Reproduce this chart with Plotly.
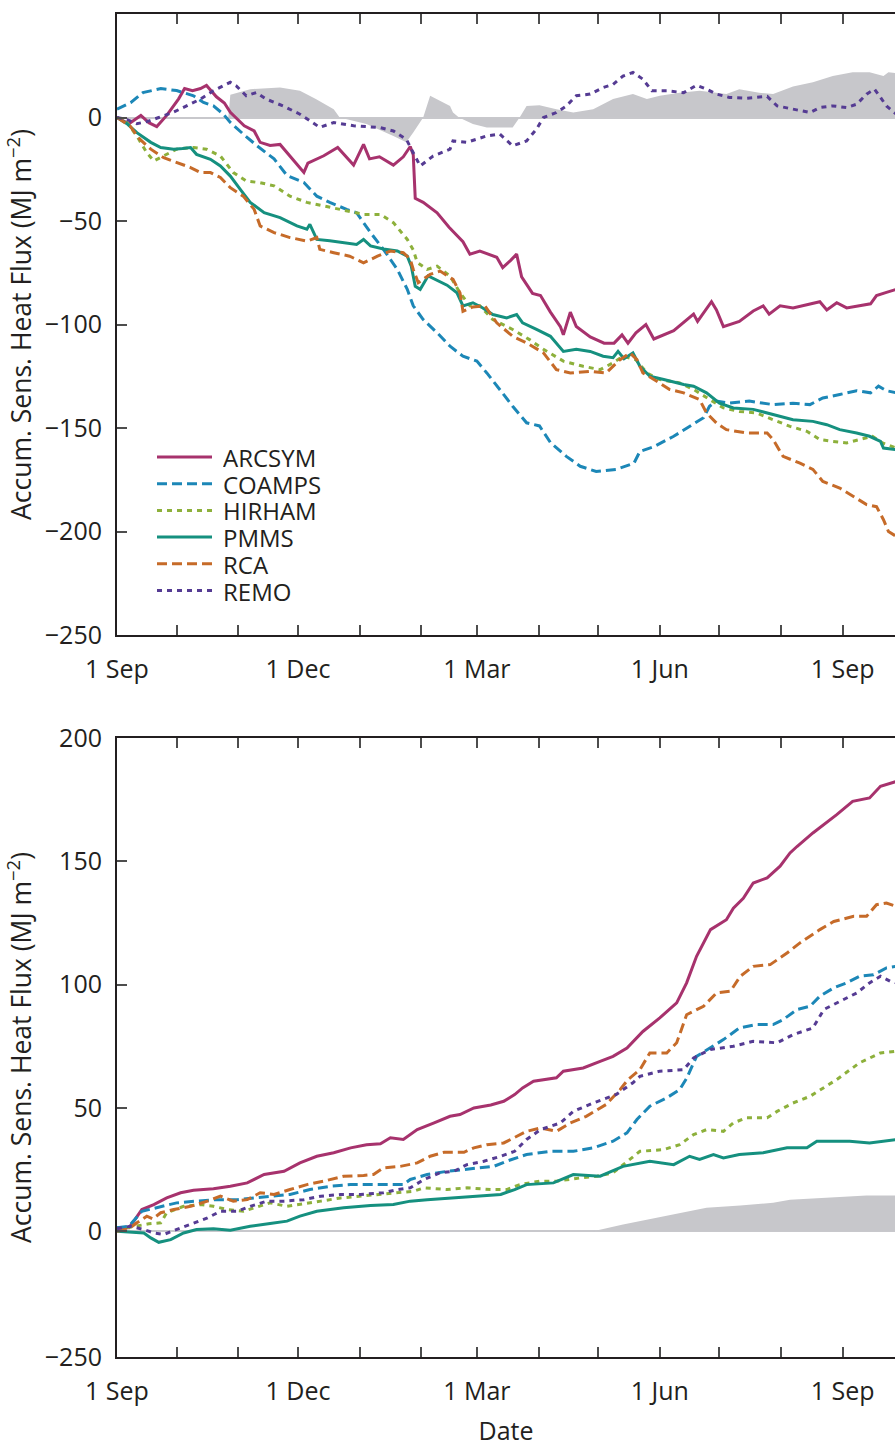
import pandas as pd
import plotly.graph_objects as go

# ---------------- data (day offset from 1 Sep 1997, accumulated flux MJ m-2) -------------
START = pd.Timestamp("1997-09-01")
END_DAY = 391.3

MODELS = ["ARCSYM", "COAMPS", "HIRHAM", "PMMS", "RCA", "REMO"]
COLORS = ["#A7326D", "#1C87B7", "#8DB03B", "#15907F", "#C66B29", "#553B93"]
DASHES = ["solid", "10px,5px", "5px,5px", "solid", "10px,5px", "5px,5px"]
SHADE_COLOR = "#C7C7CB"

QUARTER_DATES = ["1997-09-01", "1997-12-01", "1998-03-01", "1998-06-01", "1998-09-01"]
QUARTER_LABELS = ["1 Sep", "1 Dec", "1 Mar", "1 Jun", "1 Sep"]
MONTH_DATES = ["1997-10-01", "1997-11-01", "1998-01-01", "1998-02-01", "1998-04-01",
               "1998-05-01", "1998-07-01", "1998-08-01"]

TOP_TICKS = [-250, -200, -150, -100, -50, 0, 50]
BOT_TICKS = [-51, 0, 50, 100, 150, 200]
BOT_TICK_LABELS = ["\u2212250", "0", "50", "100", "150", "200"]

# ---- top panel (sensible heat flux) ----
ARCSYM_TOP = [(0, 0), (6, -3), (12, 1), (16, -2.5), (20, -4.4), (25, 1), (31, 9), (34, 14), (38, 13),
              (42, 14), (45, 15.5), (48, 12), (50, 10), (54, 7), (57, 2.5), (64, -4), (69, -6.5), (72, -12),
              (77, -13.5), (82, -13), (87, -18.5), (94, -26.5), (96, -22), (104, -18.5), (111, -14.5),
              (116, -20), (119, -23), (124, -13), (127, -20), (132, -19), (139, -23), (144, -19),
              (147.5, -14), (149, -18), (150, -39), (154, -41), (161, -46), (167, -53), (174, -60),
              (177.5, -66), (182.5, -64.5), (191, -67.5), (194, -72.5), (198, -69), (201, -66),
              (203.5, -77), (209, -85), (213, -86), (218, -94), (223, -101), (224.5, -105), (228, -94),
              (231, -101), (238, -106), (245, -109), (250, -109), (254, -105), (257, -109), (261, -104),
              (266, -100), (270, -107), (280, -103), (285, -99), (290, -95), (292, -98.5), (299, -89),
              (301.5, -93), (305, -101), (313, -98.5), (320, -93.5), (325, -91), (328, -95), (333.5, -91),
              (340, -92), (353.5, -89), (357, -93), (362, -89.5), (367, -92), (379, -90), (382, -86),
              (387, -84.5), (392, -83)]
COAMPS_TOP = [(0, 4), (7, 7.3), (13, 12), (22, 14), (30, 13), (38.5, 10.5), (43.5, 7.3), (48.5, 5.6),
              (53.5, 1.6), (57, -2.4), (63.5, -8), (70.5, -13.7), (79, -20), (85.5, -28), (94, -31.4),
              (100.5, -38), (107, -41), (115.5, -44.4), (120.5, -46), (127.5, -55.6), (134, -63.7),
              (141, -73.4), (146, -83), (149, -91), (154, -97.6), (161, -104), (167.5, -110.5),
              (174, -115.3), (181, -117.7), (186, -123.4), (192.5, -131.4), (199, -139.5), (206, -147.5),
              (212.5, -149), (218, -157), (226, -163.7), (233, -168.5), (241, -171), (251, -170),
              (260, -167), (263, -161.3), (270, -159), (280, -154), (288, -149), (295, -145),
              (298, -139.5), (301.5, -137), (308, -138), (318, -137), (330, -138.7), (340, -138),
              (348.5, -138.7), (355, -135.5), (363.5, -133.8), (372, -132), (379, -133), (383, -129.8),
              (387, -132), (392, -133)]
HIRHAM_TOP = [(0, 0), (5, -2.4), (10, -9), (15, -17), (18.5, -21), (23.5, -18.6), (30, -15.3),
              (38.5, -14.5), (45, -15.3), (52, -18.6), (58.5, -26.6), (65, -30.7), (72, -31.5), (79, -33),
              (87, -38), (95.5, -41), (104, -42.8), (114, -45), (124, -46.8), (132.5, -46.8), (139, -50.8),
              (146, -58.9), (149, -64), (151, -70), (156, -73.4), (161, -71.8), (167.5, -76.6),
              (172.5, -84.7), (177.5, -91), (182.5, -91), (189, -97.6), (199, -102.4), (207.5, -107.3),
              (214.5, -112), (224.5, -117.7), (234.5, -120.2), (243, -121.8), (249.5, -118.5),
              (254.5, -115.3), (261, -117), (266.5, -123.4), (273, -126.6), (283, -128.2), (290, -131.4),
              (298, -136.3), (305, -140.3), (313, -142), (321.5, -142.7), (330, -146), (338.5, -149.2),
              (347, -151.6), (353.5, -155.6), (360, -156.5), (367, -157.2), (373.5, -155.6), (380, -154),
              (385, -157.2), (392, -159.7)]
PMMS_TOP = [(0, 0), (5, -3), (10, -7.3), (17, -12), (22, -14.5), (28.5, -15.3), (33, -15), (37, -14.5),
            (40, -17.8), (47, -20.2), (52, -23.4), (57, -28.3), (62, -34.7), (67, -41), (74, -46),
            (82, -48.4), (90.5, -52.4), (95.5, -54), (97, -51.6), (100.5, -58.9), (107, -59.5),
            (114, -60.5), (120.5, -61.3), (124, -58.9), (127.5, -62), (134, -63.5), (141, -64.5),
            (146, -67), (148, -71.8), (150, -81.5), (152.5, -83), (156.5, -76.5), (161, -78.5), (166, -81),
            (171, -84.7), (174, -91), (179, -89.5), (184, -92), (189, -95.2), (196, -96.8), (201, -95.2),
            (204, -99.2), (211, -102.4), (218, -105.7), (224.5, -113), (231, -112), (238, -113),
            (244.5, -115.3), (249.5, -116), (252, -113), (255, -116.5), (259.5, -113.7), (263, -120.2),
            (268, -125), (275, -126.6), (285, -129), (290, -129.8), (296.5, -133), (303, -138),
            (310, -140.3), (320, -141), (330, -143.5), (340, -146), (350, -146.8), (357, -148.4),
            (363.5, -150.8), (372, -152.4), (378.5, -154), (384, -156.5), (385.5, -159.7), (392, -160.5)]
RCA_TOP = [(0, 0), (6.5, -4), (11.5, -10.5), (17, -15.3), (23.5, -19.4), (30, -21.8), (37, -24.2),
           (42, -26.6), (47, -26.6), (52, -29), (57, -33.9), (63.5, -38), (69, -44.4), (72, -52.4),
           (79, -55.6), (87, -58), (95.5, -59.7), (100.5, -58), (102, -63.7), (109, -65.3), (117, -67),
           (124, -70.2), (131, -67), (137.5, -64.5), (144, -65.3), (147.5, -68.5), (149, -73.4),
           (151.5, -79.8), (157.5, -75.8), (162.5, -74.2), (169, -78.2), (172.5, -84.7), (174, -93.6),
           (179, -91.5), (185, -91), (191, -99.2), (199, -105.7), (206, -108.9), (214.5, -113.7),
           (221, -121.8), (228, -123.4), (238, -122.6), (246, -123.4), (253, -117), (258, -113.7),
           (261.5, -117), (264.5, -123.4), (271.5, -127.4), (278, -131.4), (285, -133), (291.5, -135.5),
           (293, -136.3), (296.5, -142.7), (301.5, -147.6), (306.5, -150.8), (316.5, -152.4),
           (327, -152.4), (330, -155.6), (335, -163.7), (343.5, -167), (350, -170), (355, -175.8),
           (363.5, -179), (370, -183), (377, -187), (382, -188), (385.5, -194.3), (388, -200),
           (392, -202.4)]
REMO_TOP = [(0, 0), (5, -1), (10, -3), (15, -2), (21, 0), (28, 2.4), (35, 5.6), (42, 8.9), (48.5, 12.9),
            (57, 17), (60, 15.3), (65, 10.5), (70, 12), (75, 8.9), (83.5, 5.6), (92, 1.6), (102, -4.8),
            (109, -2.4), (119, -4), (132, -4.8), (139, -6.5), (145.5, -10.5), (149, -17), (152.5, -23.4),
            (159, -18.6), (167.5, -15.3), (169, -11.3), (176, -12), (186, -8.9), (192.5, -8),
            (199, -13.7), (206, -11.3), (211, -5.6), (214.5, 0), (221, 2.4), (226, 5.6), (231, 10.5),
            (238, 11.3), (244.5, 14.5), (249.5, 16), (254.5, 20), (259.5, 21.8), (264.5, 18.5),
            (269, 12.9), (276.5, 12.9), (285, 12), (291.5, 15.6), (296.5, 13.7), (301.5, 11.3),
            (308, 9.7), (316.5, 9.3), (327, 10.2), (332, 5.6), (343.5, 3.2), (348.5, 2.4), (353.5, 4.8),
            (360, 5.6), (367, 4.8), (372, 6.4), (377, 11.3), (381, 13.7), (384, 9.7), (387, 5.6),
            (392, 1.6)]
SHADE_TOP = [(0, 0), (56, 0), (57, 11), (67, 13.7), (82, 14.5), (92, 12.9), (100, 8.9), (109, 4), (112, 0),
             (125.5, -3.2), (139, -8.9), (145.5, -12), (149, -7.3), (154, 0), (157.5, 10.5), (161, 8.9),
             (167.5, 5.6), (169, 2.4), (172, 0), (179, -3.2), (186, -4.8), (199, -4.8), (202.5, 0),
             (206, 5.6), (212.5, 5.9), (221, 4), (229.5, 2.4), (239.5, 4), (249.5, 8.9), (259.5, 11.3),
             (266.5, 8.9), (273, 10.5), (283, 12), (293, 12.9), (306.5, 11.3), (313, 13.7), (323, 12),
             (330, 11.3), (340, 15), (350, 17), (360, 20), (370, 21.8), (378.5, 21.8), (385.5, 20),
             (388, 21.8), (392, 21.4)]

# ---- bottom panel ----
ARCSYM_BOT = [(0, 1.4), (6, 1.4), (9, 4.7), (12.5, 8.8), (18.5, 10.8), (25, 13.5), (32, 15.6),
              (38.5, 16.6), (48.5, 17.2), (57, 18.2), (65.5, 19.6), (74, 23), (84, 24.3), (92, 27.7),
              (100.5, 30.4), (109, 31.8), (117.5, 33.8), (125.5, 35.1), (132.5, 35.5), (137.5, 37.9),
              (144, 37.2), (151, 41.2), (159.5, 43.9), (167.5, 46.6), (172.5, 47.3), (179.5, 50),
              (188, 51.2), (194.5, 52.7), (200, 55.4), (204, 58.1), (209.5, 60.8), (221, 62.2),
              (224.5, 64.9), (234.5, 66.2), (243, 68.9), (249.5, 70.9), (256.5, 74.3), (264.5, 81),
              (273, 86.5), (281.5, 92.6), (286.5, 100.7), (291.5, 111.5), (298.5, 122.3), (306.5, 126.3),
              (310, 131), (315, 135), (320, 141.2), (327, 143.3), (333.5, 148), (338.5, 153.4), (342, 156),
              (350, 161.5), (362, 168.9), (370, 174.3), (378.5, 175.7), (384, 180.4), (392, 182.4)]
COAMPS_BOT = [(0, 1.4), (6, 2), (12.5, 8.1), (20, 9.5), (30, 11.5), (40, 12.2), (50, 12.8), (60.5, 12.8),
              (70.5, 13.5), (79, 14.2), (87, 14.9), (97, 16.9), (107, 18.2), (117.5, 18.9), (127.5, 18.9),
              (137.5, 18.9), (144, 18.9), (147.5, 21), (156, 23), (166, 24.3), (174.5, 25), (182.5, 25.7),
              (189.5, 26.3), (196, 28.4), (206, 31.1), (218, 32.4), (229.5, 32.4), (239.5, 33.8),
              (249.5, 36.5), (256.5, 39.9), (261.5, 45.3), (268, 50.7), (276.5, 54.1), (283, 57.4),
              (286.5, 62), (291.5, 70.9), (298.5, 74.3), (305, 77.7), (313, 82.4), (321.5, 83.8),
              (330, 83.8), (335, 85.8), (342, 89.9), (348.5, 91.2), (353.5, 95.3), (360.5, 98.7),
              (367, 100.7), (373.5, 103.4), (380.5, 104), (387, 106.8), (392, 107.4)]
HIRHAM_BOT = [(0, 0.7), (10, 2), (16, 3), (22, 3.4), (25, 7.5), (33.5, 10.1), (42, 10.8), (48.5, 10.1),
              (55.5, 8.8), (63.5, 8.1), (72, 10.1), (77, 11.5), (85.5, 10.1), (92, 10.8), (102.5, 12.2),
              (112.5, 13.5), (122.5, 14.2), (134, 14.9), (142.5, 15.6), (149, 16.2), (154.5, 17.6),
              (166, 16.9), (176, 17.6), (188, 16.9), (196, 16.9), (202.5, 18.9), (212.5, 20.3),
              (221, 20.3), (233, 21.6), (241.5, 22.3), (249.5, 23.7), (256.5, 28.4), (263, 32.4),
              (275, 33.1), (283, 35.1), (290, 39.2), (296.5, 41.2), (305, 40.5), (310, 43.9), (316.5, 46),
              (327, 46), (332, 48.6), (340, 52), (348.5, 54.7), (357, 58.8), (362, 61.5), (373.5, 68.3),
              (384, 72.3), (392, 73)]
PMMS_BOT = [(0, 0), (13.5, -0.7), (17, -2.7), (21, -4.5), (27, -3.4), (33.5, -0.7), (40, 0.7), (48.5, 1),
            (57, 0.4), (67, 2), (77, 3.1), (85.5, 4.1), (92, 6.1), (100.5, 8.1), (114, 9.5), (127.5, 10.4),
            (139, 10.8), (147.5, 12.2), (156, 12.8), (167.5, 13.5), (181, 14.2), (193, 14.9), (200, 16.9),
            (206, 18.9), (219.5, 19.6), (229.5, 23), (243, 22.3), (254.5, 26.3), (268, 28.4), (280, 27),
            (288, 30.4), (293, 29.1), (300, 31.1), (305, 29.7), (313, 31.1), (325, 31.8), (337, 33.8),
            (347, 33.8), (352, 36.5), (368.5, 36.5), (378.5, 35.8), (392, 37.2)]
RCA_BOT = [(0, 0), (6, 1), (10, 3.4), (15, 6.1), (18, 5), (22, 7.5), (28.5, 8.8), (37, 10.1), (45.5, 12.2),
           (52, 14.2), (58.5, 12.2), (65.5, 12.8), (72, 15.6), (79, 14.9), (87, 16.9), (95.5, 18.9),
           (104, 20.3), (114, 22.3), (124, 22.6), (129, 23), (134, 25.7), (142.5, 26.3), (151, 27.7),
           (157.5, 30.4), (164.5, 32), (174.5, 32), (179.5, 33.8), (186, 35.1), (194.5, 35.8), (200, 37.9),
           (206, 40.5), (213, 41.9), (221, 40.5), (228, 43.9), (236, 46.6), (246, 51.4), (253, 57.4),
           (257, 61.5), (263, 65.5), (268, 72.3), (276.5, 72.3), (281.5, 76.4), (286.5, 87.8), (295, 91.2),
           (301.5, 96.6), (308.5, 97.3), (313.5, 103.4), (320, 107.4), (328.5, 108.1), (337, 112.8),
           (343.5, 116.9), (353.5, 122.3), (360.5, 125.6), (370.5, 127.7), (377, 127.7), (382, 132.4),
           (387, 133.1), (392, 131.7)]
REMO_BOT = [(0, 1), (6.5, 2), (13.5, 0.7), (18.5, -0.7), (23.5, -1.3), (30, 0.7), (37, 2.7), (45.5, 5.4),
            (52, 8.1), (60.5, 8.1), (67, 10.1), (75.5, 12.2), (84, 12.2), (94, 12.8), (102.5, 14.2),
            (112.5, 14.9), (122.5, 14.9), (134, 15.6), (141, 16.9), (147.5, 17.6), (154.5, 21),
            (162.5, 23.7), (169.5, 24.3), (176, 27), (184.5, 28.4), (193, 30.4), (200, 32.4), (206, 37.2),
            (213, 41.2), (223, 43.9), (229.5, 48.6), (239.5, 52), (251, 55.4), (259.5, 60.2), (263, 62.8),
            (273, 64.9), (285, 65.5), (290, 70.3), (298.5, 73.7), (310, 75), (320, 77), (332, 76.4),
            (340, 79.7), (350, 82.4), (355.5, 89.9), (363.5, 93.2), (372, 96.6), (378.5, 100.7),
            (384, 103.4), (389, 101.3), (392, 100.7)]
SHADE_BOT = [(0, 0), (239.5, 0), (254.5, 2.7), (271.5, 5.4), (283, 7.4), (296.5, 9.5), (313.5, 10.4),
             (330, 11.5), (338.5, 12.8), (355.5, 13.5), (377, 14.5), (392, 14.5)]

TOP_SERIES = [ARCSYM_TOP, COAMPS_TOP, HIRHAM_TOP, PMMS_TOP, RCA_TOP, REMO_TOP]
BOT_SERIES = [ARCSYM_BOT, COAMPS_BOT, HIRHAM_BOT, PMMS_BOT, RCA_BOT, REMO_BOT]

# ---------------- layout geometry (pixels) ----------------
W, H = 895, 1447
L, R, T, B = 117, 0, 14, 90
PLOT_H = H - T - B
TOP_PANEL_BOTTOM_PX = 635
BOT_PANEL_TOP_PX = 738
FONT = "Open Sans, Lato, sans-serif"
TEXT = "#231F20"


def unpack(pairs):
    days = [p[0] for p in pairs]
    vals = [p[1] for p in pairs]
    dates = [START + pd.Timedelta(days=d) for d in days]
    return dates, vals


fig = go.Figure()

for shade, xa, ya in [(SHADE_TOP, "x", "y"), (SHADE_BOT, "x2", "y2")]:
    d, v = unpack(shade)
    fig.add_trace(go.Scatter(x=d, y=v, mode="lines", fill="tozeroy", fillcolor=SHADE_COLOR,
                             line=dict(width=0, color=SHADE_COLOR), xaxis=xa, yaxis=ya,
                             showlegend=False, hoverinfo="skip"))

for series, xa, ya in [(TOP_SERIES, "x", "y"), (BOT_SERIES, "x2", "y2")]:
    for name, pairs, col, dash in zip(MODELS, series, COLORS, DASHES):
        d, v = unpack(pairs)
        fig.add_trace(go.Scatter(x=d, y=v, mode="lines", name=name,
                                 line=dict(color=col, width=3, dash=dash),
                                 xaxis=xa, yaxis=ya, showlegend=False))

x_end = START + pd.Timedelta(days=END_DAY)
xcommon = dict(
    type="date", range=[START, x_end], tickmode="array", tickvals=QUARTER_DATES,
    ticktext=QUARTER_LABELS, ticks="inside", ticklen=10, tickwidth=1.5, tickcolor="#4D4D4D",
    showline=True, linewidth=2, linecolor=TEXT, mirror="ticks", showgrid=False, zeroline=False,
    tickfont=dict(family=FONT, size=25, color=TEXT), ticklabelstandoff=11,
    minor=dict(tickmode="array", tickvals=MONTH_DATES, ticks="inside", ticklen=10, tickwidth=1.5,
               tickcolor="#4D4D4D", showgrid=False),
)
ycommon = dict(
    ticks="inside", ticklen=10, tickwidth=1.5, tickcolor="#4D4D4D", showline=True, linewidth=2,
    linecolor=TEXT, mirror=False, showgrid=False, zeroline=True, zerolinecolor="#C8C8CC",
    zerolinewidth=2, tickfont=dict(family=FONT, size=25, color=TEXT), ticklabelstandoff=8,
    title=dict(text="Accum. Sens. Heat Flux (MJ m<sup>\u22122</sup>)",
               font=dict(family=FONT, size=26.5, color=TEXT), standoff=8),
)

top_dom = [(H - B - TOP_PANEL_BOTTOM_PX) / PLOT_H, 1.0]
bot_dom = [0.0, (H - B - BOT_PANEL_TOP_PX) / PLOT_H]

fig.update_layout(
    width=W, height=H, margin=dict(l=L, r=R, t=T, b=B, autoexpand=False),
    paper_bgcolor="white", plot_bgcolor="white", showlegend=False,
    xaxis=dict(xcommon, anchor="y", domain=[0, 1]),
    xaxis2=dict(xcommon, anchor="y2", domain=[0, 1],
                title=dict(text="Date", font=dict(family=FONT, size=25, color=TEXT), standoff=17)),
    yaxis=dict(ycommon, anchor="x", domain=top_dom, range=[-250, 50], tickmode="array",
               tickvals=TOP_TICKS),
    yaxis2=dict(ycommon, anchor="x2", domain=bot_dom, range=[-51, 200], tickmode="array",
                tickvals=BOT_TICKS, ticktext=BOT_TICK_LABELS),
)

# ---------------- manual legend (top panel) ----------------
LEG_LINE_X0, LEG_LINE_X1, LEG_TEXT_X = 157, 212, 222
LEG_ROW0, LEG_ROW_STEP = 457, 26.7


def px_x(px):
    return (px - L) / (W - L - R)


def px_y(py):
    return (H - B - py) / PLOT_H


for i, (name, col, dash) in enumerate(zip(MODELS, COLORS, DASHES)):
    yy = px_y(LEG_ROW0 + i * LEG_ROW_STEP)
    fig.add_shape(type="line", xref="paper", yref="paper", x0=px_x(LEG_LINE_X0), x1=px_x(LEG_LINE_X1),
                  y0=yy, y1=yy, line=dict(color=col, width=3, dash=dash))
    fig.add_annotation(xref="paper", yref="paper", x=px_x(LEG_TEXT_X), y=yy, text=name,
                       showarrow=False, xanchor="left", yanchor="middle", height=26, borderpad=0,
                       font=dict(family=FONT, size=24, color=TEXT))

# remove the default 8px page margin so the 895x1447 figure fills the window exactly
fig.write_html("out.html", config={"displayModeBar": False},
               post_script="document.body.style.margin='0';document.body.style.overflow='hidden';")
